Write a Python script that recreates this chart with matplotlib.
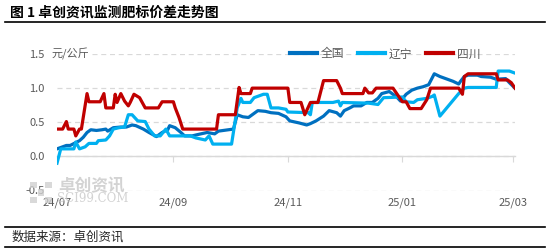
import matplotlib
matplotlib.use("Agg")
import matplotlib.pyplot as plt
import matplotlib.dates as mdates
from matplotlib.lines import Line2D
from matplotlib.patches import Rectangle
import pandas as pd

plt.rcParams['font.family'] = ['Noto Sans CJK SC', 'DejaVu Sans']

title = "图 1 卓创资讯监测肥标价差走势图"
source = "数据来源：卓创资讯"
unit = "元/公斤"
series_names = ["全国", "辽宁", "四川"]
colors = ["#0070C0", "#00B0F0", "#C00000"]

qg_dates = ["2024-07-01", "2024-07-06", "2024-07-08", "2024-07-13", "2024-07-15", "2024-07-17", "2024-07-19",
            "2024-07-22", "2024-07-25", "2024-07-27", "2024-07-28", "2024-07-31", "2024-08-04", "2024-08-07",
            "2024-08-10", "2024-08-12", "2024-08-16", "2024-08-19", "2024-08-23", "2024-08-26", "2024-08-29",
            "2024-08-30", "2024-09-02", "2024-09-05", "2024-09-07", "2024-09-11", "2024-09-14", "2024-09-19",
            "2024-09-23", "2024-09-25", "2024-10-03", "2024-10-05", "2024-10-08", "2024-10-11", "2024-10-16",
            "2024-10-20", "2024-10-23", "2024-10-27", "2024-10-31", "2024-11-02", "2024-11-07", "2024-11-11",
            "2024-11-13", "2024-11-16", "2024-11-20", "2024-11-23", "2024-11-27", "2024-11-29", "2024-12-01",
            "2024-12-04", "2024-12-06", "2024-12-10", "2024-12-13", "2024-12-16", "2024-12-19", "2024-12-21",
            "2024-12-25", "2024-12-29", "2024-12-31", "2025-01-03", "2025-01-06", "2025-01-09", "2025-01-12",
            "2025-01-15", "2025-01-18", "2025-01-21", "2025-01-24", "2025-01-28", "2025-01-31", "2025-02-01",
            "2025-02-03", "2025-02-05", "2025-02-10", "2025-02-12", "2025-02-17", "2025-02-20", "2025-02-25",
            "2025-02-27", "2025-03-02"]
qg_values = [0.11, 0.16, 0.16, 0.23, 0.28, 0.35, 0.39,
             0.38, 0.39, 0.40, 0.37, 0.42, 0.43, 0.43,
             0.46, 0.45, 0.40, 0.35, 0.29, 0.35, 0.39,
             0.45, 0.42, 0.35, 0.30, 0.30, 0.32, 0.35,
             0.33, 0.37, 0.40, 0.61, 0.58, 0.57, 0.67,
             0.66, 0.64, 0.63, 0.58, 0.52, 0.49, 0.46,
             0.48, 0.52, 0.59, 0.67, 0.64, 0.59, 0.67,
             0.71, 0.74, 0.74, 0.79, 0.79, 0.85, 0.92,
             0.95, 0.87, 0.81, 0.91, 0.97, 1.00, 1.02,
             1.05, 1.21, 1.17, 1.14, 1.10, 1.06, 1.10,
             1.17, 1.19, 1.19, 1.17, 1.16, 1.13, 1.14,
             1.08, 1.00]

ln_dates = ["2024-07-01", "2024-07-03", "2024-07-10", "2024-07-11", "2024-07-13", "2024-07-16", "2024-07-18",
            "2024-07-22", "2024-07-23", "2024-07-27", "2024-07-29", "2024-07-31", "2024-08-03", "2024-08-06",
            "2024-08-08", "2024-08-10", "2024-08-13", "2024-08-17", "2024-08-19", "2024-08-22", "2024-08-25",
            "2024-08-28", "2024-08-30", "2024-09-10", "2024-09-13", "2024-09-18", "2024-09-20", "2024-09-22",
            "2024-10-02", "2024-10-05", "2024-10-07", "2024-10-08", "2024-10-12", "2024-10-14", "2024-10-19",
            "2024-10-21", "2024-10-23", "2024-10-27", "2024-10-31", "2024-11-01", "2024-11-12", "2024-11-13",
            "2024-11-14", "2024-11-25", "2024-11-28", "2024-11-29", "2024-11-30", "2024-12-14", "2024-12-19",
            "2024-12-22", "2025-01-01", "2025-01-03", "2025-01-07", "2025-01-09", "2025-01-14", "2025-01-17",
            "2025-01-18", "2025-01-21", "2025-01-31", "2025-02-03", "2025-02-05", "2025-02-20", "2025-02-21",
            "2025-02-27", "2025-03-02"]
ln_values = [-0.10, 0.11, 0.11, 0.21, 0.11, 0.14, 0.19,
             0.19, 0.23, 0.24, 0.30, 0.40, 0.42, 0.43,
             0.61, 0.61, 0.52, 0.51, 0.40, 0.30, 0.30,
             0.40, 0.30, 0.30, 0.27, 0.24, 0.30, 0.18,
             0.18, 0.71, 0.85, 0.79, 0.79, 0.86, 0.91,
             0.91, 0.71, 0.71, 0.69, 0.65, 0.64, 0.61,
             0.79, 0.79, 0.81, 0.74, 0.79, 0.78, 0.76,
             0.86, 0.87, 0.80, 0.79, 0.83, 0.85, 0.88,
             0.90, 0.59, 0.92, 1.00, 1.01, 1.01, 1.25,
             1.25, 1.22]

sc_dates = ["2024-07-01", "2024-07-04", "2024-07-06", "2024-07-07", "2024-07-10", "2024-07-11", "2024-07-13",
            "2024-07-14", "2024-07-17", "2024-07-18", "2024-07-24", "2024-07-26", "2024-07-27", "2024-07-31",
            "2024-08-01", "2024-08-02", "2024-08-04", "2024-08-06", "2024-08-08", "2024-08-09", "2024-08-11",
            "2024-08-14", "2024-08-15", "2024-08-17", "2024-08-24", "2024-08-26", "2024-09-01", "2024-09-02",
            "2024-09-04", "2024-09-06", "2024-09-24", "2024-09-25", "2024-10-04", "2024-10-06", "2024-10-07",
            "2024-10-12", "2024-10-13", "2024-11-01", "2024-11-02", "2024-11-08", "2024-11-10", "2024-11-13",
            "2024-11-17", "2024-11-20", "2024-11-27", "2024-11-29", "2024-11-30", "2024-12-11", "2024-12-12",
            "2024-12-14", "2024-12-16", "2024-12-18", "2024-12-27", "2025-01-01", "2025-01-03", "2025-01-05",
            "2025-01-11", "2025-01-14", "2025-01-16", "2025-01-31", "2025-02-02", "2025-02-03", "2025-02-05",
            "2025-02-20", "2025-02-21", "2025-02-26", "2025-02-28", "2025-03-02"]
sc_values = [0.40, 0.40, 0.51, 0.40, 0.40, 0.30, 0.40,
             0.40, 0.92, 0.80, 0.80, 0.92, 0.71, 0.71,
             0.91, 0.79, 0.92, 0.81, 0.74, 0.79, 0.91,
             0.86, 0.81, 0.71, 0.71, 0.80, 0.80, 0.71,
             0.57, 0.40, 0.40, 0.61, 0.61, 1.01, 0.92,
             0.92, 1.00, 1.00, 0.79, 0.79, 0.61, 0.79,
             0.79, 1.11, 1.11, 1.00, 0.92, 0.92, 1.00,
             0.93, 0.93, 1.00, 1.00, 0.80, 0.80, 0.70,
             0.70, 0.83, 1.00, 1.00, 0.91, 1.17, 1.21,
             1.21, 1.12, 1.12, 1.08, 1.00]

xtick_dates = ["2024-07-01", "2024-09-01", "2024-11-01", "2025-01-01", "2025-03-01"]
xtick_labels = ["24/07", "24/09", "24/11", "25/01", "25/03"]
yticks = [-0.5, 0.0, 0.5, 1.0, 1.5]

W, H = 550, 252
fig = plt.figure(figsize=(5.5, 2.52), dpi=100)

def fx(px):
    return px / W

def fy(py):
    return 1 - py / H

ax = fig.add_axes([fx(57), fy(190.5), fx(515 - 57), (190.5 - 54) / H])

all_dates = [qg_dates, ln_dates, sc_dates]
all_values = [qg_values, ln_values, sc_values]
for d, v, name, c in zip(all_dates, all_values, series_names, colors):
    ax.plot(pd.to_datetime(d), v, color=c, lw=2.3, label=name, solid_joinstyle='round', zorder=3)

ax.set_ylim(-0.5, 1.5)
ax.set_xlim(pd.Timestamp("2024-07-01"), pd.Timestamp("2025-03-02"))
ax.set_yticks(yticks)
ax.set_yticklabels([f"{v:.1f}" for v in yticks])
ax.yaxis.grid(True, color="#D9D9D9", lw=0.9, linestyle=(0, (4, 3)))
ax.set_axisbelow(True)
for s in ["left", "right", "top"]:
    ax.spines[s].set_visible(False)
ax.spines["bottom"].set_position(("data", 0))
ax.spines["bottom"].set_color("#D9D9D9")
ax.spines["bottom"].set_linewidth(1.0)
ax.spines["bottom"].set_zorder(2)

xt = pd.to_datetime(xtick_dates)
ax.set_xticks(xt)
ax.tick_params(axis="x", direction="out", length=4, color="#D9D9D9", labelbottom=False)
ax.tick_params(axis="y", length=0, pad=9, labelsize=8, labelcolor="#595959")

sec = ax.secondary_xaxis(0.0)
sec.set_xticks(xt)
sec.set_xticklabels(xtick_labels)
sec.tick_params(length=0, pad=5, labelsize=8, labelcolor="#595959")
sec.spines["bottom"].set_visible(False)

fig.text(fx(51), fy(54), unit, ha="left", va="center", fontsize=8, color="#595959",
         bbox=dict(facecolor="white", edgecolor="none", pad=1.5), zorder=5)

leg = ax.legend(loc="center", bbox_to_anchor=(fx(385), fy(54)), bbox_transform=fig.transFigure,
                ncol=3, frameon=False, fontsize=8.5, handlelength=2.3, handletextpad=0.3,
                columnspacing=1.2, borderpad=0.1, labelcolor="#595959")
for lh in leg.get_lines():
    lh.set_linewidth(3)

# watermark
fig.text(fx(58), fy(186), "卓创资讯", ha="left", va="center", fontsize=12, fontweight="bold",
         color="#C8C8C8", alpha=0.8)
fig.text(fx(57), fy(198), "SCI99.COM", ha="left", va="center", fontsize=8.5,
         family="DejaVu Serif", color="#C8C8C8", alpha=0.8)
for i in range(3):
    for j in range(3):
        if (i + j) % 2 == 0:
            fig.add_artist(Rectangle((fx(30 + i * 7.5), fy(203 - j * 7.5)), fx(6.5), 6.5 / H,
                                     facecolor="#D0D0D0", edgecolor="none", alpha=0.8))

# title, rules, source
fig.text(fx(10), fy(12.7), title, ha="left", va="center", fontsize=10, fontweight="bold", color="black")
for yy in [21.7, 227, 247]:
    fig.add_artist(Line2D([fx(5), fx(545)], [fy(yy), fy(yy)], color="black", lw=1.2))
fig.text(fx(12), fy(237.5), source, ha="left", va="center", fontsize=9, color="#262626")

fig.savefig("out.png", dpi=100)
